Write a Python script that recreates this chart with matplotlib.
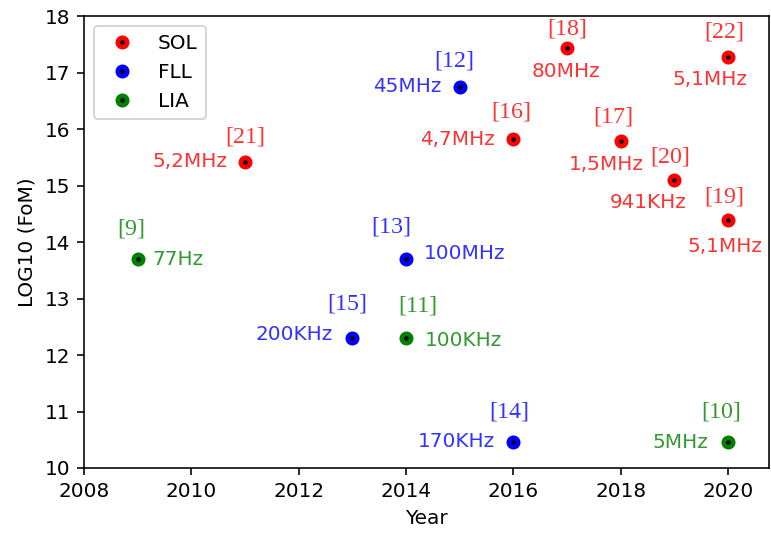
import matplotlib.pyplot as plt
from matplotlib.lines import Line2D

# figure of merit per technique (year, log10 FoM, reference, bandwidth)
sol_year = [2011, 2016, 2017, 2018, 2019, 2020, 2020]
sol_fom = [15.42, 15.82, 17.43, 15.78, 15.10, 14.39, 17.27]
sol_ref = ['[21]', '[16]', '[18]', '[17]', '[20]', '[19]', '[22]']
sol_bw = ['5,2MHz', '4,7MHz', '80MHz', '1,5MHz', '941KHz', '5,1MHz', '5,1MHz']

fll_year = [2015, 2014, 2013, 2016]
fll_fom = [16.75, 13.70, 12.30, 10.46]
fll_ref = ['[12]', '[13]', '[15]', '[14]']
fll_bw = ['45MHz', '100MHz', '200KHz', '170KHz']

lia_year = [2009, 2014, 2020]
lia_fom = [13.70, 12.30, 10.46]
lia_ref = ['[9]', '[11]', '[10]']
lia_bw = ['77Hz', '100KHz', '5MHz']

# label placement in pixels relative to the point: (ref dx, ref dy, bw dx, bw dy, bw ha)
sol_off = [(0, 25, -18, 0, 'right'), (-2, 27, -18, 0, 'right'), (0, 19, -1, -23, 'center'),
           (-7, 24, -14, -23, 'center'), (-4, 23, -26, -23, 'center'), (-4, 23, -3, -27, 'center'),
           (-4, 25, -18, -22, 'center')]
fll_off = [(-5, 26, -18, 0, 'right'), (-15, 32, 18, 5, 'left'), (-5, 34, -20, 4, 'right'),
           (-4, 30, -18, 1, 'right')]
lia_off = [(-6, 30, 15, -1, 'left'), (12, 32, 19, -2, 'left'), (-7, 30, -20, 0, 'right')]

plt.figure(figsize=(771/144, 534/144), dpi=144)
plt.subplots_adjust(left=0.109, right=0.997, top=0.970, bottom=0.1236)
ax = plt.gca()


def draw(years, fom, refs, bws, offs, color, name):
    ax.plot(years, fom, 'o', color=color, markersize=6, zorder=3)
    ax.plot(years, fom, 'k.', markersize=2.5, zorder=4)
    for x, y, r, b, o in zip(years, fom, refs, bws, offs):
        ax.annotate(r, (x, y), xytext=(o[0], o[1]), textcoords='offset pixels',
                    ha='center', va='center', color=color, alpha=0.8,
                    family='Liberation Serif', fontsize=12)
        ax.annotate(b, (x, y), xytext=(o[2], o[3]), textcoords='offset pixels',
                    ha=o[4], va='center', color=color, alpha=0.8, fontsize=10)
    return (Line2D([], [], marker='o', color=color, markersize=6, linestyle='none'),
            Line2D([], [], marker='.', color='k', markersize=2.5, linestyle='none'))


h1 = draw(sol_year, sol_fom, sol_ref, sol_bw, sol_off, 'red', 'SOL')
h2 = draw(fll_year, fll_fom, fll_ref, fll_bw, fll_off, 'blue', 'FLL')
h3 = draw(lia_year, lia_fom, lia_ref, lia_bw, lia_off, 'green', 'LIA')

ax.legend([h1, h2, h3], ['SOL', 'FLL', 'LIA'], loc='upper left')
ax.set_xlim(2008, 2020.76)
ax.set_ylim(10, 18)
ax.set_xticks(range(2008, 2021, 2))
ax.set_xlabel('Year')
ax.set_ylabel('LOG10 (FoM)')
plt.savefig('out.png', dpi=144)
